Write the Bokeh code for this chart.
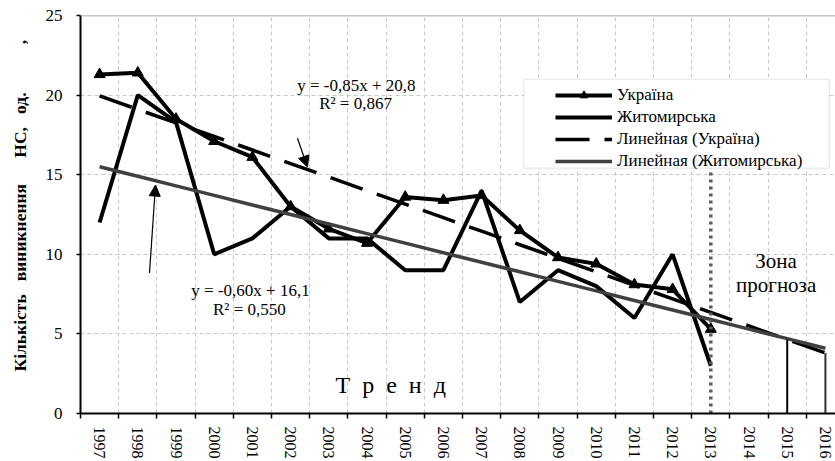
import numpy as np
from bokeh.plotting import figure
from bokeh.models import (FixedTicker, Range1d, Label, Arrow, NormalHead, Legend,
                          LegendItem, BoxAnnotation, Span)
from bokeh.embed import file_html
from bokeh.resources import INLINE

# ---- data ----
years = ["1997", "1998", "1999", "2000", "2001", "2002", "2003", "2004", "2005", "2006",
         "2007", "2008", "2009", "2010", "2011", "2012", "2013", "2014", "2015", "2016"]
ukraine = [21.3, 21.4, 18.5, 17.1, 16.1, 13.0, 11.6, 10.7, 13.6, 13.4,
           13.7, 11.5, 9.8, 9.4, 8.1, 7.8, 5.3]
zhytomyr = [12, 20, 18.3, 10, 11, 13, 11, 11, 9, 9,
            14, 7, 9, 8, 6, 10, 3]
# linear trends (Excel labels)
ua_slope, ua_icpt = -0.85, 20.8
zh_slope, zh_icpt = -0.60, 16.1
y_ticks = [0, 5, 10, 15, 20, 25]

FONT = "Liberation Serif"
NB = "\u00a0"

idx = list(range(len(years)))
n_obs = len(ukraine)
x_obs = idx[:n_obs]
t = np.arange(1, len(years) + 1)
ua_trend = ua_slope * t + ua_icpt
zh_trend = zh_slope * t + zh_icpt

p = figure(width=835, height=461, x_range=Range1d(-0.5, 19.264), y_range=Range1d(0, 25),
           output_backend="svg", toolbar_location=None,
           min_border_left=80, min_border_right=0, min_border_top=15, min_border_bottom=47)
p.background_fill_color = "white"
p.border_fill_color = "white"
p.outline_line_color = None

# axes
xt = FixedTicker(ticks=idx, minor_ticks=[i - 0.5 for i in range(len(years) + 1)])
p.xaxis.ticker = xt
p.xaxis.major_label_overrides = {i: y for i, y in enumerate(years)}
p.xaxis.major_label_orientation = "vertical"
p.xaxis.major_tick_out = 0
p.xaxis.major_tick_in = 0
p.xaxis.minor_tick_out = 5
p.xaxis.minor_tick_in = 0
p.xaxis.minor_tick_line_color = "black"
p.xaxis.minor_tick_line_width = 1.5
p.xaxis.major_label_standoff = 8
p.xaxis.major_label_text_font = FONT
p.xaxis.major_label_text_font_size = "16px"
p.xaxis.major_label_text_color = "black"
p.xaxis.axis_line_color = "black"
p.xaxis.axis_line_width = 2

p.yaxis.ticker = FixedTicker(ticks=y_ticks, minor_ticks=[])
p.yaxis.major_tick_out = 4
p.yaxis.major_tick_in = 0
p.yaxis.major_tick_line_width = 1.5
p.yaxis.major_label_standoff = 14
p.yaxis.major_label_text_font = FONT
p.yaxis.major_label_text_font_size = "17px"
p.yaxis.major_label_text_color = "black"
p.yaxis.axis_line_color = "black"
p.yaxis.axis_line_width = 2
p.yaxis.axis_label = (NB * 4 + "Кількість" + NB * 3 + "виникнення" + NB * 6 + "НС," + NB * 3 +
                      "од." + NB * 11 + ",")
p.yaxis.axis_label_text_font = FONT
p.yaxis.axis_label_text_font_style = "bold"
p.yaxis.axis_label_text_font_size = "17.5px"
p.yaxis.axis_label_text_color = "black"
p.yaxis.axis_label_standoff = 13

# grids
p.xgrid.grid_line_color = None
p.xgrid.minor_grid_line_color = "#c8c8c8"
p.xgrid.minor_grid_line_dash = "4 3"
p.xgrid.minor_grid_line_width = 1
p.ygrid.grid_line_color = "#c8c8c8"
p.ygrid.grid_line_dash = "4 3"
p.ygrid.grid_line_width = 1

p.add_layout(Span(location=y_ticks[-1], dimension="width", line_color="#8c8c8c", line_width=1.5))

# series
r_ua = p.line(x_obs, ukraine, line_color="black", line_width=4)
r_ua_m = p.scatter(x_obs, ukraine, marker="triangle", size=11, fill_color="black", line_color="black")
r_zh = p.line(x_obs, zhytomyr, line_color="black", line_width=4)
r_uat = p.line(idx, ua_trend, line_color="black", line_width=3.5, line_dash="34 15")
r_zht = p.line(idx, zh_trend, line_color="#404040", line_width=3.5)

# legend box (decoration)
box_bottom = 15.41
p.add_layout(BoxAnnotation(left=11.1, right=19.1, bottom=box_bottom, top=20.99,
                           fill_color="white", fill_alpha=1, line_color="#bfbfbf", line_width=1.5))

# forecast zone markers
i13 = years.index("2013")
i15 = years.index("2015")
i16 = years.index("2016")
p.segment(x0=[i13], y0=[0], x1=[i13], y1=[box_bottom], line_color="#5a5a5a", line_width=3.5, line_dash="3 4")
p.segment(x0=[i15], y0=[0], x1=[i15], y1=[ua_trend[i15]], line_color="black", line_width=2)
p.segment(x0=[i16], y0=[0], x1=[i16], y1=[ua_trend[i16]], line_color="#303030", line_width=2)

legend = Legend(items=[
    LegendItem(label="Україна", renderers=[r_ua, r_ua_m]),
    LegendItem(label="Житомирська", renderers=[r_zh]),
    LegendItem(label="Линейная (Україна)", renderers=[r_uat]),
    LegendItem(label="Линейная (Житомирська)", renderers=[r_zht]),
], location=(475, 242))
legend.border_line_color = None
legend.background_fill_alpha = 0
legend.padding = 5
legend.margin = 0
legend.spacing = 2
legend.label_height = 20
legend.glyph_height = 20
legend.glyph_width = 57
legend.label_standoff = 5
legend.label_text_font = FONT
legend.label_text_font_size = "17px"
legend.label_text_color = "black"
p.add_layout(legend)

# text annotations
def lab(x, y, text, size="17px"):
    p.add_layout(Label(x=x, y=y, text=text, text_align="center", text_baseline="middle",
                       text_font=FONT, text_font_size=size, text_color="black"))

lab(6.72, 20.61, "y = -0,85x + 20,8")
lab(6.70, 19.49, "R² = 0,867")
lab(3.95, 7.71, "y = -0,60x + 16,1")
lab(3.92, 6.52, "R² = 0,550")
lab(7.62, 1.82, "Т" + NB * 2 + "р" + NB * 2 + "е" + NB * 2 + "н" + NB * 2 + "д", size="24px")
lab(17.71, 9.56, "Зона", size="21px")
lab(17.71, 8.08, "прогноза", size="21px")

# arrows
p.add_layout(Arrow(end=NormalHead(size=11, fill_color="black", line_color="black"),
                   x_start=1.306, y_start=8.83, x_end=1.463, y_end=14.35,
                   line_color="black", line_width=1.2))
p.add_layout(Arrow(end=NormalHead(size=11, fill_color="black", line_color="black"),
                   x_start=5.18, y_start=17.29, x_end=5.44, y_end=15.48,
                   line_color="black", line_width=1.2))

open("out.html", "w").write(file_html(p, INLINE))
